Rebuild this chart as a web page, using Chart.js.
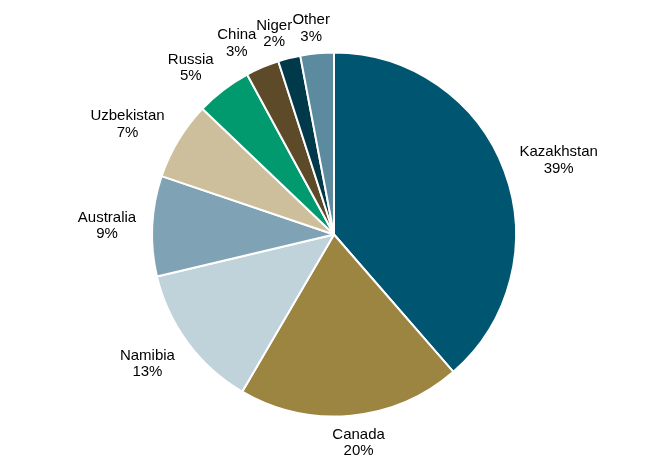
<!DOCTYPE html>
<html>
<head>
<meta charset="utf-8">
<script src="https://cdn.jsdelivr.net/npm/chart.js@4/dist/chart.umd.min.js"></script>
<style>
  html, body { margin: 0; padding: 0; background: #fff; }
  #wrap { width: 651px; height: 461px; }
</style>
</head>
<body>
<div id="wrap"><canvas id="pie" width="651" height="461"></canvas></div>
<script>
const countries = ["Kazakhstan", "Canada", "Namibia", "Australia", "Uzbekistan", "Russia", "China", "Niger", "Other"];
const shares = [39, 20, 13, 9, 7, 5, 3, 2, 3];
const colors = ["#005571", "#9b8540", "#c0d2da", "#7fa3b4", "#cdbf9c", "#009a6e", "#5c4a28", "#00394a", "#5c8a9e"];

// labels outside the slices, name over percent
const outsideLabels = {
  id: "outsideLabels",
  afterDatasetsDraw(chart) {
    const ctx = chart.ctx;
    const meta = chart.getDatasetMeta(0);
    ctx.save();
    ctx.font = "15px 'Liberation Sans', Arial, sans-serif";
    ctx.fillStyle = "#000";
    ctx.textAlign = "center";
    ctx.textBaseline = "alphabetic";
    meta.data.forEach((arc, i) => {
      const p = arc.getProps(["x", "y", "startAngle", "endAngle", "outerRadius"], true);
      const mid = (p.startAngle + p.endAngle) / 2;
      const cos = Math.cos(mid), sin = Math.sin(mid);
      const pct = shares[i] + "%";
      const halfW = Math.max(ctx.measureText(countries[i]).width, ctx.measureText(pct).width) / 2;
      const halfH = 14;
      const fx = Math.sign(cos) * Math.min(1, 2.5 * Math.abs(cos));
      const fy = Math.sign(sin) * Math.min(1, 1.5 * Math.abs(sin));
      const cx = p.x + cos * (p.outerRadius + 16) + fx * halfW;
      const cy = p.y + sin * (p.outerRadius + 12) + fy * halfH;
      ctx.fillText(countries[i], cx, cy - 8.3 + 5.4);
      ctx.fillText(pct, cx, cy + 8.3 + 5.4);
    });
    ctx.restore();
  }
};

new Chart(document.getElementById("pie"), {
  type: "pie",
  data: {
    labels: countries,
    datasets: [{
      data: shares,
      backgroundColor: colors,
      borderColor: "#fff",
      borderWidth: 2
    }]
  },
  options: {
    responsive: false,
    animation: false,
    layout: { padding: { top: 51, bottom: 43, left: 151, right: 134 } },
    plugins: {
      legend: { display: false },
      tooltip: { enabled: false }
    }
  },
  plugins: [outsideLabels]
});
</script>
</body>
</html>
